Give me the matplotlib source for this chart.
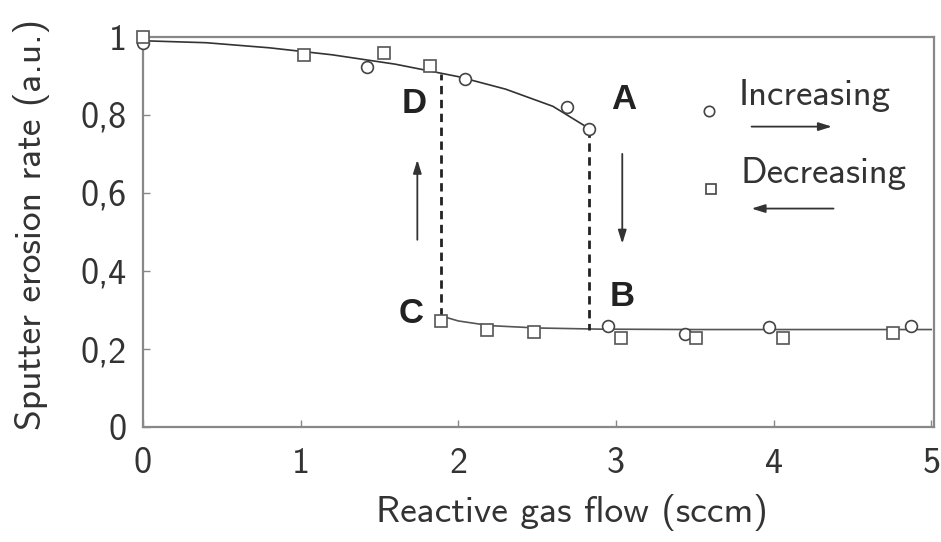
import matplotlib
matplotlib.use("Agg")
import matplotlib.pyplot as plt

# Measured erosion rates, gas flow ramped up and then back down
inc_flow = [0.0, 1.42, 2.04, 2.69, 2.83, 2.95, 3.44, 3.97, 4.87]
inc_rate = [0.985, 0.923, 0.893, 0.82, 0.764, 0.259, 0.238, 0.256, 0.259]
dec_flow = [0.0, 1.02, 1.53, 1.82, 1.89, 2.18, 2.48, 3.03, 3.51, 4.06, 4.76]
dec_rate = [1.0, 0.954, 0.959, 0.926, 0.273, 0.248, 0.244, 0.228, 0.228, 0.228, 0.242]

# Guide curves for the metallic (high) and poisoned (low) branches
high_flow = [0.0, 0.4, 0.8, 1.2, 1.6, 2.0, 2.3, 2.6, 2.83]
high_rate = [0.99, 0.985, 0.972, 0.954, 0.93, 0.898, 0.866, 0.822, 0.765]
low_flow = [1.89, 2.0, 2.2, 2.5, 2.9, 3.5, 5.0]
low_rate = [0.285, 0.272, 0.26, 0.254, 0.251, 0.25, 0.25]

# Flow values where the rate jumps between branches
jump_down = 2.83   # A -> B
jump_up = 1.89     # C -> D

x_ticks = [0, 1, 2, 3, 4, 5]
x_labels = ["0", "1", "2", "3", "4", "5"]
y_ticks = [0, 0.2, 0.4, 0.6, 0.8, 1.0]
y_labels = ["0", "0,2", "0,4", "0,6", "0,8", "1"]

FONT = "cmss10"
TXT = "#333333"
FRAME = "#888888"

fig = plt.figure(figsize=(9.41, 5.42), dpi=100)
ax = fig.add_axes([0.152, 0.212, 0.841, 0.72])

ax.plot(high_flow, high_rate, color="#333333", lw=1.2, zorder=2)
ax.plot(low_flow, low_rate, color="#555555", lw=1.2, zorder=2)

ax.plot([jump_down, jump_down], [high_rate[-1], low_rate[-1]],
        color="#222222", lw=2.0, ls=(0, (3, 2)), zorder=2)
ax.plot([jump_up, jump_up], [low_rate[0], 0.905],
        color="#222222", lw=2.0, ls=(0, (3, 2)), zorder=2)

ax.plot(inc_flow, inc_rate, ls="none", marker="o", ms=8.5, mfc="white",
        mec="#444444", mew=1.2, zorder=3, clip_on=False)
ax.plot(dec_flow, dec_rate, ls="none", marker="s", ms=8.5, mfc="white",
        mec="#555555", mew=1.2, zorder=3, clip_on=False)

# Point labels
for lbl, (lx, ly) in {"A": (3.05, 0.84), "B": (3.04, 0.335),
                      "C": (1.70, 0.29), "D": (1.72, 0.83)}.items():
    ax.text(lx, ly, lbl, fontsize=25, fontweight="bold", color="#222222",
            family="Liberation Sans", ha="center", va="center")

arrow = dict(arrowstyle="-|>,head_length=0.8,head_width=0.25",
             color="#333333", lw=1.3, shrinkA=0, shrinkB=0)
ax.annotate("", xy=(3.04, 0.47), xytext=(3.04, 0.70), arrowprops=arrow)
ax.annotate("", xy=(1.74, 0.685), xytext=(1.74, 0.48), arrowprops=arrow)

# Legend drawn in data space
ax.plot([3.59], [0.81], ls="none", marker="o", ms=7.5, mfc="white",
        mec="#444444", mew=1.2)
ax.text(3.78, 0.85, "Increasing", fontsize=26.5, family=FONT, color=TXT,
        ha="left", va="center")
ax.annotate("", xy=(4.37, 0.77), xytext=(3.86, 0.77), arrowprops=arrow)
ax.plot([3.6], [0.61], ls="none", marker="s", ms=7.5, mfc="white",
        mec="#444444", mew=1.2)
ax.text(3.79, 0.65, "Decreasing", fontsize=26.5, family=FONT, color=TXT,
        ha="left", va="center")
ax.annotate("", xy=(3.86, 0.56), xytext=(4.38, 0.56), arrowprops=arrow)

ax.set_xlim(0, 5.02)
ax.set_ylim(0, 1.0)
ax.set_xticks(x_ticks)
ax.set_xticklabels(x_labels)
ax.set_yticks(y_ticks)
ax.set_yticklabels(y_labels)
ax.tick_params(direction="in", length=5, width=1, color=FRAME,
               labelsize=26, labelcolor=TXT)
ax.tick_params(axis="x", pad=14)
ax.tick_params(axis="y", pad=12)
for t in ax.get_xticklabels() + ax.get_yticklabels():
    t.set_family(FONT)

for s in ax.spines.values():
    s.set_color(FRAME)
    s.set_linewidth(1.6)

ax.set_xlabel("Reactive gas flow (sccm)", fontsize=27, family=FONT,
              color=TXT)
ax.set_ylabel("Sputter erosion rate (a.u.)", fontsize=27, family=FONT,
              color=TXT)
ax.xaxis.set_label_coords(0.542, -0.172)
ax.yaxis.set_label_coords(-0.118, 0.52)

fig.savefig("out.png", dpi=100)
